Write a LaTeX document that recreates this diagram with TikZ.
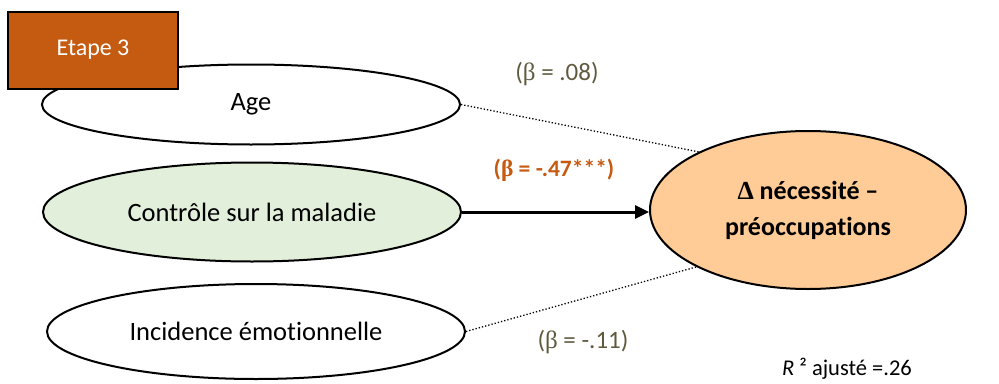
\documentclass[tikz,border=0pt]{standalone}
\usepackage{fontspec}
\setmainfont{Carlito}[Ligatures=NoCommon]
\newfontfamily\symf{Liberation Serif}
\usetikzlibrary{shapes.geometric,arrows.meta}
\definecolor{etape}{HTML}{C55A11}
\definecolor{olivetxt}{HTML}{5F5A3E}
\definecolor{greenfill}{HTML}{E2EFDA}
\definecolor{outfill}{HTML}{FFCB96}
\tikzset{
  pred/.style={ellipse, draw=black, line width=2pt, minimum width=418pt, minimum height=80pt, inner sep=0pt, font=\fontsize{26.5}{30}\selectfont},
  coef/.style={font=\fontsize{25}{29}\selectfont, text=olivetxt, inner sep=0pt},
  dotline/.style={dotted, line width=1.3pt}
}
\begin{document}
\begin{tikzpicture}[x=1pt,y=-1pt]
\useasboundingbox (0,0) rectangle (999,383);
\node[pred, fill=white] (age) at (251,104.5) {Age};
\node[pred, fill=greenfill, minimum height=99pt] (ctrl) at (252,212) {Contrôle sur la maladie};
\node[pred, fill=white, minimum height=95pt] (inc) at (256,331.5) {Incidence émotionnelle};
\node[ellipse, draw=black, line width=2pt, fill=outfill, minimum width=316pt, minimum height=158pt, inner sep=0pt, align=center, font=\fontsize{26}{36}\selectfont\bfseries] (out) at (808,210) {{\symf\char"0394} nécessité –\\préoccupations};
\node[rectangle, draw=black, line width=2pt, fill=etape, minimum width=170pt, minimum height=77pt, inner sep=0pt, text=white, font=\fontsize{24}{28}\selectfont] (etape) at (93,50) {\raisebox{-3pt}{Etape 3}};
\draw[dotline] (age.east) -- (out.152);
\draw[dotline] (inc.east) -- (out.207);
\draw[line width=3pt, -{Triangle[length=14pt,width=13pt]}] (ctrl.east) -- (ctrl.east -| out.west);
\node[coef] (b1) at (557,74) {({\symf β} = .08)};
\node[coef, text=etape, font=\fontsize{23.5}{28}\selectfont\bfseries] (b2) at (554,170) {({\symf β} = -.47***)};
\node[coef] (b3) at (583,342) {({\symf β} = -.11)};
\node[font=\fontsize{22.5}{26}\selectfont, inner sep=0pt] (r2) at (847,369) {\textit{R} ² ajusté =.26};
\end{tikzpicture}
\end{document}
